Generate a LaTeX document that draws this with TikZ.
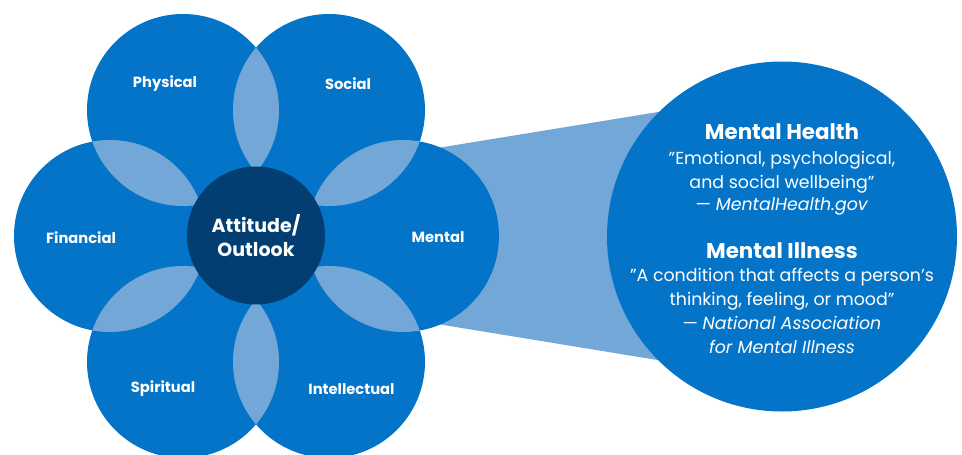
\documentclass[tikz,border=0pt]{standalone}
\usepackage{fontspec}
\setmainfont{Poppins}
\definecolor{petal}{HTML}{0474C8}
\definecolor{lens}{HTML}{72A7D7}
\definecolor{core}{HTML}{023E71}
\tikzset{
  petalnode/.style={circle, fill=petal, minimum size=192pt, inner sep=0pt},
  petallabel/.style={text=white, font=\fontsize{14.7}{16}\selectfont\bfseries},
  bodyline/.style={text=white, anchor=base, font=\fontsize{17.4}{20}\selectfont},
  titleline/.style={text=white, anchor=base, font=\fontsize{21.4}{24}\selectfont\bfseries},
}
\begin{document}
\begin{tikzpicture}[x=1pt,y=-1pt]
\useasboundingbox (0,0) rectangle (962,455);
% funnel
\fill[lens] (403,153.6) -- (782,91.8) -- (782,380.4) -- (403,318.4) -- cycle;
% petals
\node[petalnode] (phys) at (183,110) {};
\node[petalnode] (soc) at (329,110) {};
\node[petalnode] (ment) at (403,236) {};
\node[petalnode] (intel) at (329,362) {};
\node[petalnode] (spir) at (183,362) {};
\node[petalnode] (fin) at (110,236) {};
% lenses
\begin{scope}\clip (183,110) circle (96); \fill[lens] (329,110) circle (96);\end{scope}
\begin{scope}\clip (329,110) circle (96); \fill[lens] (403,236) circle (96);\end{scope}
\begin{scope}\clip (403,236) circle (96); \fill[lens] (329,362) circle (96);\end{scope}
\begin{scope}\clip (329,362) circle (96); \fill[lens] (183,362) circle (96);\end{scope}
\begin{scope}\clip (183,362) circle (96); \fill[lens] (110,236) circle (96);\end{scope}
\begin{scope}\clip (110,236) circle (96); \fill[lens] (183,110) circle (96);\end{scope}
% center
\node[circle, fill=core, minimum size=138pt, inner sep=0pt, text=white, align=center,
  font=\fontsize{19}{24}\selectfont\bfseries] (core) at (256,235.5) {Attitude/\\Outlook};
% labels
\node[petallabel] (lphys) at (165,84) {Physical};
\node[petallabel] (lsoc) at (348,84) {Social};
\node[petallabel] (lfin) at (81,237.5) {Financial};
\node[petallabel] (lment) at (438,237.5) {Mental};
\node[petallabel] (lspir) at (163,389) {Spiritual};
\node[petallabel] (lintel) at (351.5,389) {Intellectual};
% big circle
\node[circle, fill=petal, minimum size=350pt, inner sep=0pt] (big) at (782,236.5) {};
\node[titleline] (t1) at (782,139.5) {Mental Health};
\node[bodyline] (m1) at (782,164) {"Emotional, psychological,};
\node[bodyline] (m2) at (782,188) {and social wellbeing"};
\node[bodyline] (m3) at (782,210.5) {— \textit{MentalHealth.gov}};
\node[titleline] (t2) at (782,258.5) {Mental Illness};
\node[bodyline] (i1) at (782,281.7) {"A condition that affects a person’s};
\node[bodyline] (i2) at (782,305.7) {thinking, feeling, or mood"};
\node[bodyline] (i3) at (782,329.3) {— \textit{National Association}};
\node[bodyline] (i4) at (782,353.3) {\textit{for Mental Illness}};
\end{tikzpicture}
\end{document}
